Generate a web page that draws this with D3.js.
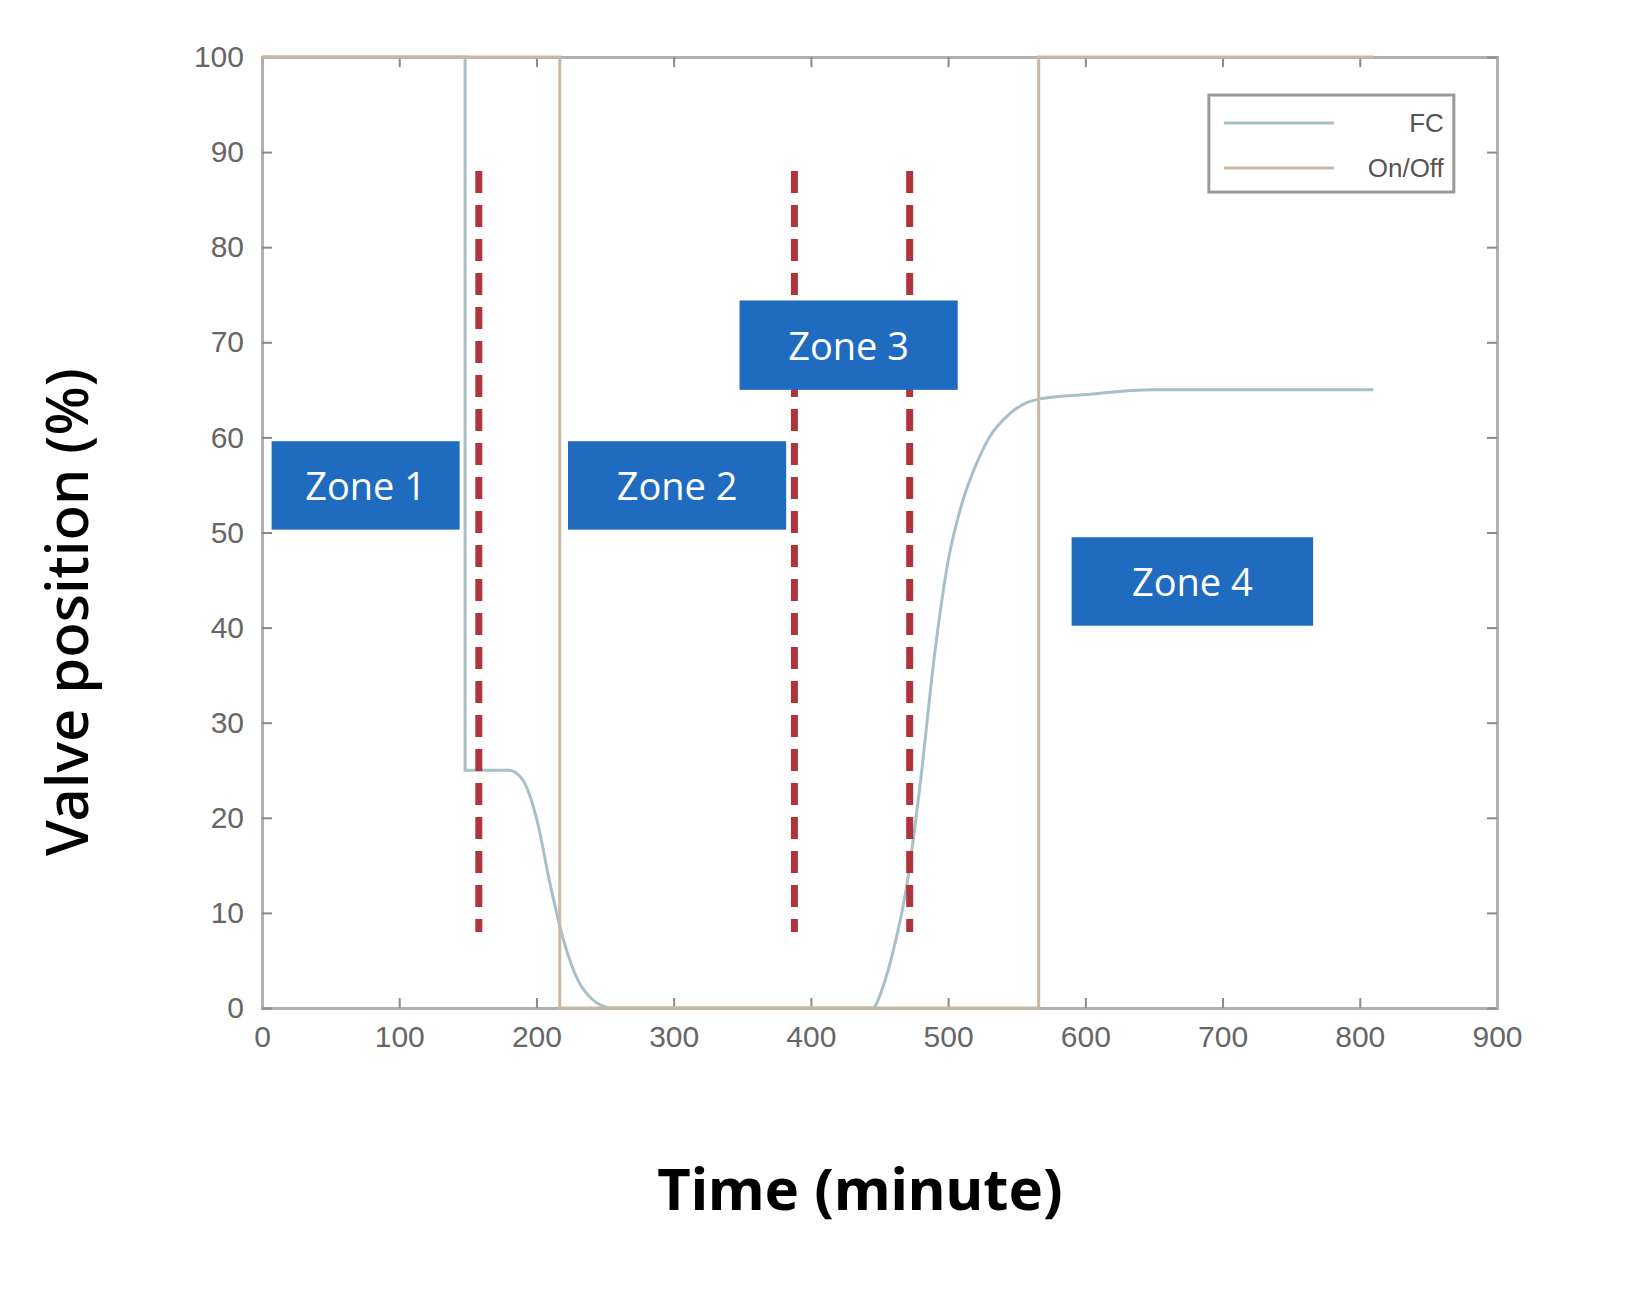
<!DOCTYPE html>
<html><head><meta charset="utf-8">
<script src="https://cdn.jsdelivr.net/npm/d3@7"></script>
<style>body{margin:0;background:#fff}</style>
</head><body>
<svg width="1640" height="1312"></svg>
<script>
// FC valve curve (minute, %)
const fcTime = [0,148,148,180,190,200,210,220,230,240,255,445,452,460,470,480,490,500,510,520,530,545,565,600,650,810];
const fcValue = [100,100,25,25,24,20,13,7,3,1,0,0,2,6,13,24,37,47,53,57,60,62.5,64,64.5,65,65];
// On/Off valve
const onoffTime = [0,217,217,566,566,810];
const onoffValue = [100,100,0,0,100,100];
// red dashed markers
const markerTimes = [158,388,472];
const markerRange = [8,88];
// zone labels: [x0,x1,y0,y1]
const zones = [
  {name:"Zone 1", x:[7,144], y:[50.3,59.6]},
  {name:"Zone 2", x:[223,382], y:[50.3,59.6]},
  {name:"Zone 3", x:[348,507], y:[65,74.4]},
  {name:"Zone 4", x:[590,766], y:[40.2,49.5]}
];
const xTicks = d3.range(0,901,100);
const yTicks = d3.range(0,101,10);

const m = {left:262, top:57, w:1235, h:951};
const svg = d3.select("svg");
const g = svg.append("g").attr("transform", `translate(${m.left},${m.top})`);
const x = d3.scaleLinear().domain([0,900]).range([0,m.w]);
const y = d3.scaleLinear().domain([0,100]).range([m.h,0]);

// axes (box style, ticks inside)
const tickCol = "#8a8a8a";
const ax = [
  [d3.axisBottom(x).tickValues(xTicks).tickSize(-10), `translate(0,${m.h})`],
  [d3.axisTop(x).tickValues(xTicks).tickSize(-10).tickFormat(""), "translate(0,0)"],
  [d3.axisLeft(y).tickValues(yTicks).tickSize(-10), "translate(0,0)"],
  [d3.axisRight(y).tickValues(yTicks).tickSize(-10).tickFormat(""), `translate(${m.w},0)`]
];
ax.forEach(([a,t]) => {
  const s = g.append("g").attr("transform", t).call(a.tickPadding(18));
  s.select(".domain").attr("stroke", "#b0b0b0").attr("stroke-width", 3);
  s.selectAll(".tick line").attr("stroke", tickCol).attr("stroke-width", 2);
  s.selectAll("text").attr("fill", "#666").attr("font-size", 30).attr("font-family", "Liberation Sans, Arial, sans-serif");
});

g.append("path").datum(fcTime.map((t,i)=>[t,fcValue[i]]))
  .attr("d", d3.line().x(d=>x(d[0])).y(d=>y(d[1])).curve(d3.curveMonotoneX))
  .attr("fill","none").attr("stroke","#a9bfc8").attr("stroke-width",3);
g.append("path").datum(onoffTime.map((t,i)=>[t,onoffValue[i]]))
  .attr("d", d3.line().x(d=>x(d[0])).y(d=>y(d[1])))
  .attr("fill","none").attr("stroke","#c9b8a6").attr("stroke-width",3);

g.selectAll(".marker").data(markerTimes).join("line")
  .attr("x1", d=>x(d)).attr("x2", d=>x(d))
  .attr("y1", y(markerRange[1])).attr("y2", y(markerRange[0]))
  .attr("stroke","#b0343c").attr("stroke-width",7).attr("stroke-dasharray","22,12");

const zg = g.selectAll(".zone").data(zones).join("g");
zg.append("rect").attr("x", d=>x(d.x[0])).attr("y", d=>y(d.y[1]))
  .attr("width", d=>x(d.x[1])-x(d.x[0])).attr("height", d=>y(d.y[0])-y(d.y[1]))
  .attr("fill","#1f6bc0");
zg.append("text").attr("x", d=>x((d.x[0]+d.x[1])/2)).attr("y", d=>y((d.y[0]+d.y[1])/2))
  .attr("text-anchor","middle").attr("dominant-baseline","central")
  .attr("fill","#fff").attr("font-size",38).attr("font-family","Open Sans, sans-serif")
  .text(d=>d.name);

// legend
const lg = g.append("g").attr("transform", `translate(${x(690)},${y(96)})`);
lg.append("rect").attr("width",245).attr("height",97).attr("fill","#fff").attr("stroke","#999").attr("stroke-width",3);
[["FC","#a9bfc8"],["On/Off","#c9b8a6"]].forEach(([n,c],i)=>{
  const yy = 28 + i*45;
  lg.append("line").attr("x1",15).attr("x2",125).attr("y1",yy).attr("y2",yy).attr("stroke",c).attr("stroke-width",3);
  lg.append("text").attr("x",235).attr("y",yy).attr("dominant-baseline","central").attr("text-anchor","end")
    .attr("font-size",26).attr("fill","#555").attr("font-family","Liberation Sans, Arial, sans-serif").text(n);
});

svg.append("text").attr("x",860).attr("y",1210).attr("text-anchor","middle")
  .attr("font-size",58).attr("font-weight","bold").attr("font-family","Noto Sans, sans-serif").text("Time (minute)");
svg.append("text").attr("transform","translate(88,612) rotate(-90)").attr("text-anchor","middle")
  .attr("font-size",58).attr("font-weight",500).attr("font-family","Noto Sans, sans-serif").text("Valve position (%)");
</script>
</body></html>
